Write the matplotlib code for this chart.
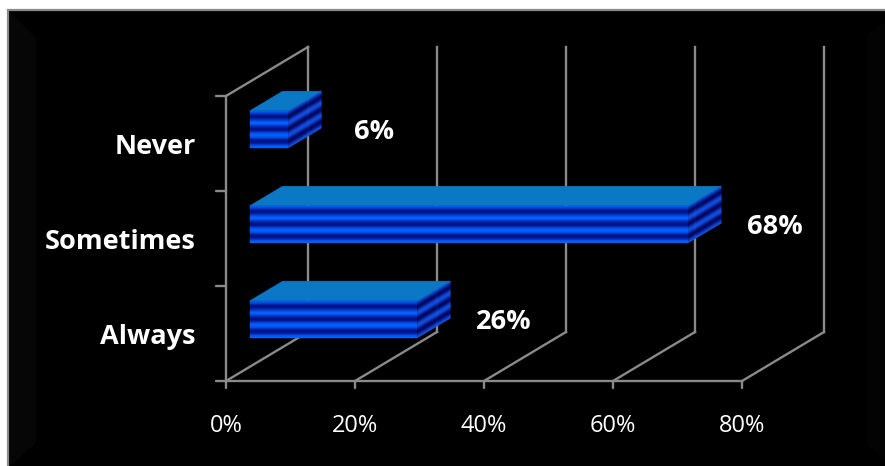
import numpy as np
import matplotlib.pyplot as plt
from matplotlib.patches import Polygon, Rectangle

categories = ['Always', 'Sometimes', 'Never']
shares = [26, 68, 6]
ticks = [0, 20, 40, 60, 80]
tick_labels = ['0%', '20%', '40%', '60%', '80%']

W, H = 885, 466
X0, PX_PCT = 226, (742 - 226) / 80     # 0% position and pixels per percent
Y0, PX_CAT = 381, 95                   # floor position and pixels per category
DX, DY = 82 / PX_PCT, 49 / PX_CAT      # full depth of the 3-D box, in data units
D0, D1 = 0.29, 0.69                    # depth slab the bars occupy
HALF = 0.195                           # half bar height (category units)

GRID = '#8a8a8a'
FONT = ['Open Sans', 'DejaVu Sans']


def proj(v, c, d):
    return v + d * DX, c + d * DY


def blend(a, b, w):
    a, b = np.array(a), np.array(b)
    return tuple(a * (1 - w) + b * w)


def stripe(t):
    return 0.5 - 0.5 * np.cos(6 * np.pi * t)


fig = plt.figure(figsize=(W / 100, H / 100), dpi=100)
fig.patch.set_facecolor('white')

# --- frame with bevelled edges, in pixel units ---
bg = fig.add_axes([0, 0, 1, 1])
bg.set_xlim(0, W)
bg.set_ylim(H, 0)
bg.axis('off')
bg.add_patch(Rectangle((8, 10), W, H, facecolor='black', edgecolor='#8a8a8a', lw=1.6))

top = Polygon([(10, 12), (W, 12), (W, 20), (866, 38), (36, 38)], closed=True,
              facecolor='none', edgecolor='none')
bg.add_patch(top)
grad = np.linspace(0.02, 0.25, 64)[:, None] * np.ones((1, 2))
im = bg.imshow(grad, cmap='gray', vmin=0, vmax=1, extent=(0, W, 38, 12),
               aspect='auto', interpolation='bilinear')
im.set_clip_path(top)

bg.add_patch(Polygon([(10, 12), (36, 38), (36, 443), (10, 466)], closed=True,
                     facecolor='#060606', edgecolor='none'))
bot = Polygon([(36, 443), (867, 443), (W, 461), (W, H), (10, H)], closed=True,
              facecolor='none', edgecolor='none')
bg.add_patch(bot)
grad2 = np.linspace(0.13, 0.10, 32)[:, None] * np.ones((1, 2))
im2 = bg.imshow(grad2, cmap='gray', vmin=0, vmax=1, extent=(0, W, H, 443),
                aspect='auto', interpolation='bilinear')
im2.set_clip_path(bot)
bg.add_patch(Polygon([(866, 38), (W, 20), (W, 461), (867, 443)], closed=True,
                     facecolor='#030303', edgecolor='none'))

# --- chart in data units (percent, category) ---
ax = fig.add_axes([0, 0, 1, 1])
ax.set_xlim(-X0 / PX_PCT, (W - X0) / PX_PCT)
ax.set_ylim((Y0 - H) / PX_CAT, Y0 / PX_CAT)
ax.patch.set_alpha(0)
ax.axis('off')

n_cat = len(categories)
lw = 1.7

for t in ticks:
    # back wall verticals and floor diagonals
    ax.plot(*zip(proj(t, 0, 1), proj(t, n_cat, 1)), color=GRID, lw=lw, zorder=1)
    ax.plot(*zip(proj(t, 0, 0), proj(t, 0, 1)), color=GRID, lw=lw, zorder=1)
    ax.annotate('', xy=(t, 0), xytext=(0, -7), textcoords='offset pixels',
                arrowprops=dict(arrowstyle='-', color=GRID, lw=lw, shrinkA=0, shrinkB=0))
ax.plot(*zip(proj(0, n_cat, 0), proj(0, n_cat, 1)), color=GRID, lw=lw, zorder=1)
ax.plot([0, 0], [0, n_cat], color=GRID, lw=lw, zorder=2)
ax.plot([0, ticks[-1]], [0, 0], color=GRID, lw=lw, zorder=2)
for c in range(n_cat + 1):
    ax.annotate('', xy=(0, c), xytext=(-10, 0), textcoords='offset pixels',
                arrowprops=dict(arrowstyle='-', color=GRID, lw=lw, shrinkA=0, shrinkB=0))

for t, lab in zip(ticks, tick_labels):
    ax.annotate(lab, xy=(t, 0), xytext=(0, -45), textcoords='offset pixels',
                ha='center', va='center', color='white', fontsize=17, family=FONT)

front_hi, front_lo = (0.02, 0.38, 1.0), (0.0, 0.06, 0.52)
side_hi, side_lo = (0.08, 0.32, 0.90), (0.0, 0.03, 0.40)
top_col = '#0A78C4'
n_strips = 48

for i, (name, val) in enumerate(zip(categories, shares)):
    c = i + 0.5
    lo, hi = c - HALF, c + HALF
    edges = np.linspace(hi, lo, n_strips + 1)
    for k in range(n_strips):
        w = stripe((k + 0.5) / n_strips)
        ya, yb = edges[k], edges[k + 1]
        front = [proj(0, ya, D0), proj(val, ya, D0), proj(val, yb, D0), proj(0, yb, D0)]
        ax.add_patch(Polygon(front, closed=True, facecolor=blend(front_hi, front_lo, w),
                             edgecolor=blend(front_hi, front_lo, w), lw=0.3, zorder=4))
        side = [proj(val, ya, D0), proj(val, ya, D1), proj(val, yb, D1), proj(val, yb, D0)]
        ax.add_patch(Polygon(side, closed=True, facecolor=blend(side_hi, side_lo, w),
                             edgecolor=blend(side_hi, side_lo, w), lw=0.3, zorder=4))
    top_face = [proj(0, hi, D0), proj(val, hi, D0), proj(val, hi, D1), proj(0, hi, D1)]
    ax.add_patch(Polygon(top_face, closed=True, facecolor=top_col, edgecolor=top_col,
                         lw=0.3, zorder=4))

    # category label and value label
    ax.annotate(name, xy=(0, c), xytext=(-30, -4), textcoords='offset pixels',
                ha='right', va='center', color='white', fontsize=19.5,
                fontweight='bold', family=FONT)
    ax.annotate(f'{val}%', xy=proj(val, c, D0), xytext=(86, -3), textcoords='offset pixels',
                ha='center', va='center', color='white', fontsize=19.5,
                fontweight='bold', family=FONT)

fig.savefig('out.png', dpi=100, facecolor=fig.get_facecolor())
